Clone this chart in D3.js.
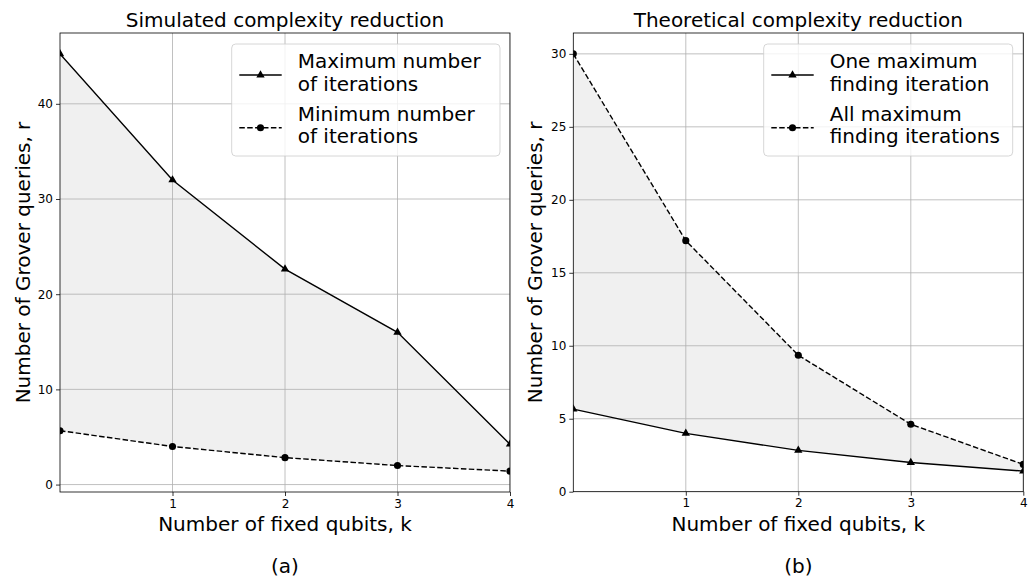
<!DOCTYPE html>
<html>
<head>
<meta charset="utf-8">
<script src="https://cdn.jsdelivr.net/npm/d3@7"></script>
<style>
  body { margin: 0; background: #fff; }
  svg text { font-family: "DejaVu Sans", sans-serif; fill: #000; }
</style>
</head>
<body>
<script>
// number of fixed qubits
var ks = [0, 1, 2, 3, 4];
var xTicks = [1, 2, 3, 4];

// (a) simulated
var simMax = [45.25, 32, 22.63, 16, 4.24];
var simMin = [5.66, 4, 2.83, 2, 1.41];
var simYTicks = [0, 10, 20, 30, 40];

// (b) theoretical
var theoOne = [5.66, 4, 2.83, 2, 1.41];
var theoAll = [30, 17.2, 9.35, 4.62, 1.87];
var theoYTicks = [0, 5, 10, 15, 20, 25, 30];

var W = 1036, H = 582;
var svg = d3.select("body").append("svg").attr("width", W).attr("height", H);

function drawPanel(p) {
  var g = svg.append("g");
  var x = d3.scaleLinear().domain([0, 4]).range([p.left, p.right]);
  var y = d3.scaleLinear().domain(p.yDomain).range([p.bottom, p.top]);

  var clipId = "clip" + p.id;
  svg.append("clipPath").attr("id", clipId)
    .append("rect").attr("x", p.left).attr("y", p.top)
    .attr("width", p.right - p.left).attr("height", p.bottom - p.top);

  var plot = g.append("g").attr("clip-path", "url(#" + clipId + ")");

  // shaded band between the two series
  var area = d3.area()
    .x(function(d, i) { return x(ks[i]); })
    .y0(function(d, i) { return y(p.lower[i]); })
    .y1(function(d, i) { return y(p.upper[i]); });
  plot.append("path").datum(ks).attr("d", area).attr("fill", "#f0f0f0");

  // grid
  plot.selectAll(".gx").data(xTicks).enter().append("line")
    .attr("x1", function(d) { return x(d); }).attr("x2", function(d) { return x(d); })
    .attr("y1", p.top).attr("y2", p.bottom)
    .attr("stroke", "#b0b0b0").attr("stroke-width", 0.8);
  plot.selectAll(".gy").data(p.yTicks).enter().append("line")
    .attr("y1", function(d) { return y(d); }).attr("y2", function(d) { return y(d); })
    .attr("x1", p.left).attr("x2", p.right)
    .attr("stroke", "#b0b0b0").attr("stroke-width", 0.8);

  var line = d3.line().x(function(d, i) { return x(ks[i]); }).y(function(d) { return y(d); });

  p.series.forEach(function(s) {
    plot.append("path").datum(s.values).attr("d", line)
      .attr("fill", "none").attr("stroke", "#000").attr("stroke-width", 1.4)
      .attr("stroke-dasharray", s.dashed ? "5.5,2.4" : null);
    plot.selectAll(null).data(s.values).enter().append("path")
      .attr("transform", function(d, i) { return "translate(" + x(ks[i]) + "," + y(d) + ")"; })
      .attr("d", d3.symbol().type(s.marker === "tri" ? d3.symbolTriangle : d3.symbolCircle)
        .size(s.marker === "tri" ? 30 : 40))
      .attr("fill", "#000");
  });

  // spines
  g.append("rect").attr("x", p.left).attr("y", p.top)
    .attr("width", p.right - p.left).attr("height", p.bottom - p.top)
    .attr("fill", "none").attr("stroke", "#000").attr("stroke-width", 0.8);

  // ticks
  var xa = g.append("g").attr("transform", "translate(0," + p.bottom + ")")
    .call(d3.axisBottom(x).tickValues(xTicks).tickSize(4).tickPadding(3).tickFormat(d3.format("d")));
  var ya = g.append("g").attr("transform", "translate(" + p.left + ",0)")
    .call(d3.axisLeft(y).tickValues(p.yTicks).tickSize(4).tickPadding(3).tickFormat(d3.format("d")));
  [xa, ya].forEach(function(a) {
    a.select(".domain").remove();
    a.selectAll("line").attr("stroke", "#000").attr("stroke-width", 0.8);
    a.selectAll("text").attr("font-size", 12).attr("font-family", "DejaVu Sans, sans-serif").attr("fill", "#000");
  });

  var cx = (p.left + p.right) / 2;
  g.append("text").attr("x", cx).attr("y", 27).attr("text-anchor", "middle")
    .attr("font-size", 20).text(p.title);
  g.append("text").attr("x", cx).attr("y", 530.5).attr("text-anchor", "middle")
    .attr("font-size", 20).text("Number of fixed qubits, k");
  g.append("text").attr("transform", "translate(" + p.yLabelX + "," + ((p.top + p.bottom) / 2) + ") rotate(-90)")
    .attr("text-anchor", "middle").attr("font-size", 20).text("Number of Grover queries, r");
  g.append("text").attr("x", cx).attr("y", 573).attr("text-anchor", "middle")
    .attr("font-size", 20).text(p.caption);

  // legend
  var lg = g.append("g").attr("transform", "translate(" + p.legend.x + "," + p.legend.y + ")");
  lg.append("rect").attr("width", p.legend.w).attr("height", 112).attr("rx", 4)
    .attr("fill", "#fff").attr("fill-opacity", 0.8).attr("stroke", "#cccccc").attr("stroke-width", 0.8);
  p.series.forEach(function(s, j) {
    var hy = j === 0 ? 31 : 83.7;
    lg.append("line").attr("x1", 7.6).attr("x2", 50).attr("y1", hy).attr("y2", hy)
      .attr("stroke", "#000").attr("stroke-width", 1.4)
      .attr("stroke-dasharray", s.dashed ? "5.5,2.4" : null);
    lg.append("path").attr("transform", "translate(28.8," + hy + ")")
      .attr("d", d3.symbol().type(s.marker === "tri" ? d3.symbolTriangle : d3.symbolCircle)
        .size(s.marker === "tri" ? 30 : 40))
      .attr("fill", "#000");
    s.label.forEach(function(t, k) {
      lg.append("text").attr("x", 66).attr("y", hy - 7 + k * 22.5)
        .attr("font-size", 20).text(t);
    });
  });
}

drawPanel({
  id: "a", left: 60, right: 510, top: 33, bottom: 492,
  yDomain: [-0.78, 47.44], yTicks: simYTicks,
  upper: simMax, lower: simMin,
  title: "Simulated complexity reduction", caption: "(a)", yLabelX: 30,
  legend: { x: 231.7, y: 44, w: 268.3 },
  series: [
    { values: simMax, marker: "tri", dashed: false, label: ["Maximum number", "of iterations"] },
    { values: simMin, marker: "dot", dashed: true, label: ["Minimum number", "of iterations"] }
  ]
});

drawPanel({
  id: "b", left: 573.3, right: 1023.3, top: 33, bottom: 491.7,
  yDomain: [0, 31.43], yTicks: theoYTicks,
  upper: theoAll, lower: theoOne,
  title: "Theoretical complexity reduction", caption: "(b)", yLabelX: 542,
  legend: { x: 763.7, y: 44, w: 249 },
  series: [
    { values: theoOne, marker: "tri", dashed: false, label: ["One maximum", "finding iteration"] },
    { values: theoAll, marker: "dot", dashed: true, label: ["All maximum", "finding iterations"] }
  ]
});
</script>
</body>
</html>
